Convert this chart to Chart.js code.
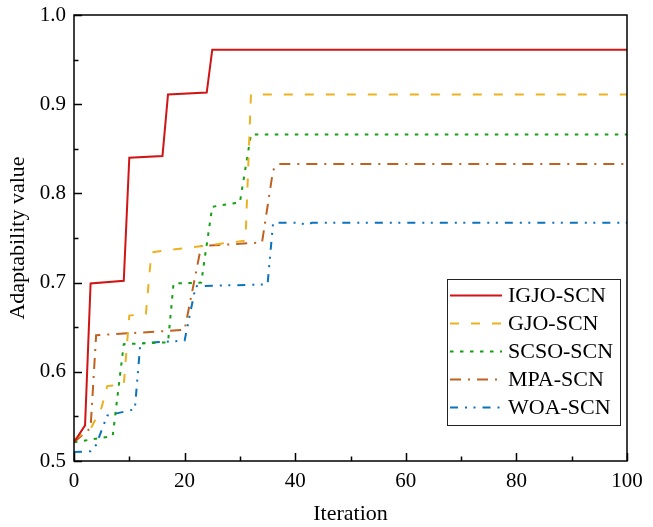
<!DOCTYPE html>
<html>
<head>
<meta charset="utf-8">
<script src="https://cdn.jsdelivr.net/npm/chart.js@4.4.1/dist/chart.umd.min.js"></script>
<style>
  html, body { margin: 0; padding: 0; background: #fff; }
  #wrap { width: 653px; height: 527px; }
</style>
</head>
<body>
<div id="wrap"><canvas id="fitness" width="653" height="527"></canvas></div>
<script>
// best adaptability value per iteration (only the iterations where the curve changes)
const iterIGJO = [0, 2, 3, 9, 10, 16, 17, 24, 25, 100];
const fitIGJO  = [0.521, 0.540, 0.699, 0.702, 0.840, 0.842, 0.911, 0.913, 0.961, 0.961];

const iterGJO = [0, 1, 3, 5, 6, 9, 10, 13, 14, 31, 32, 100];
const fitGJO  = [0.524, 0.528, 0.536, 0.560, 0.584, 0.586, 0.663, 0.665, 0.734, 0.747, 0.911, 0.911];

const iterSCSO = [0, 7, 9, 17, 18, 23, 25, 30, 32, 100];
const fitSCSO  = [0.521, 0.528, 0.631, 0.633, 0.699, 0.700, 0.785, 0.790, 0.866, 0.866];

const iterMPA = [0, 3, 4, 20, 23, 34, 36, 37, 100];
const fitMPA  = [0.521, 0.537, 0.641, 0.647, 0.741, 0.745, 0.826, 0.833, 0.833];

const iterWOA = [0, 3, 4, 6, 11, 12, 20, 22, 35, 36, 41, 42, 43, 100];
const fitWOA  = [0.510, 0.511, 0.518, 0.551, 0.558, 0.632, 0.635, 0.696, 0.698, 0.767, 0.767, 0.764, 0.767, 0.767];

const seriesNames = ['IGJO-SCN', 'GJO-SCN', 'SCSO-SCN', 'MPA-SCN', 'WOA-SCN'];
const xTicks = [0, 20, 40, 60, 80, 100];
const yTicks = [0.5, 0.6, 0.7, 0.8, 0.9, 1.0];

const FONT = "'Liberation Serif', 'Times New Roman', serif";

const toPoints = (xs, ys) => xs.map((x, i) => ({ x, y: ys[i] }));

const styles = [
    { color: '#cf1515', dash: [] },
    { color: '#edb120', dash: [9, 12] },
    { color: '#13a013', dash: [3.5, 6.5] },
    { color: '#bf6120', dash: [11, 7, 2, 7] },
    { color: '#0b73bd', dash: [8, 7, 2, 6.5, 2, 7] }
];

const rawSeries = [
    [iterIGJO, fitIGJO],
    [iterGJO, fitGJO],
    [iterSCSO, fitSCSO],
    [iterMPA, fitMPA],
    [iterWOA, fitWOA]
];

// order keeps the red curve drawn on top
const datasets = rawSeries.map(([xs, ys], i) => ({
    label: seriesNames[i],
    data: toPoints(xs, ys),
    borderColor: styles[i].color,
    backgroundColor: styles[i].color,
    borderDash: styles[i].dash,
    borderWidth: 2,
    pointRadius: 0,
    tension: 0,
    order: i
}));

// plot frame plus inward major/minor ticks
const frameTicks = {
    id: 'frameTicks',
    afterDatasetsDraw(chart) {
        const { ctx, chartArea: a, scales: { x, y } } = chart;
        ctx.save();
        ctx.strokeStyle = '#000';
        ctx.lineWidth = 1.5;
        ctx.beginPath();
        for (let v = 0; v <= 100; v += 10) {
            const px = Math.round(x.getPixelForValue(v)) + 0.5;
            const len = v % 20 === 0 ? 8 : 4.5;
            ctx.moveTo(px, a.bottom);
            ctx.lineTo(px, a.bottom - len);
        }
        for (let k = 0; k <= 10; k++) {
            const v = 0.5 + k * 0.05;
            const py = Math.round(y.getPixelForValue(v)) + 0.5;
            const len = k % 2 === 0 ? 8 : 4.5;
            ctx.moveTo(a.left, py);
            ctx.lineTo(a.left + len, py);
        }
        ctx.stroke();
        ctx.strokeRect(a.left, a.top, a.right - a.left, a.bottom - a.top);
        ctx.restore();
    }
};

// boxed legend in the lower right of the plot
const boxLegend = {
    id: 'boxLegend',
    afterDraw(chart) {
        const { ctx, chartArea: a } = chart;
        const w = 173, h = 146;
        const left = a.right - 7 - w;
        const top = a.bottom - 36 - h;
        const rowH = 27.9;
        ctx.save();
        ctx.fillStyle = '#fff';
        ctx.fillRect(left, top, w, h);
        ctx.strokeStyle = '#222';
        ctx.lineWidth = 1;
        ctx.strokeRect(left + 0.5, top + 0.5, w, h);
        ctx.font = `22px ${FONT}`;
        ctx.textBaseline = 'middle';
        chart.data.datasets.forEach((ds, i) => {
            const cy = Math.round(top + 16 + i * rowH) + 0.5;
            ctx.strokeStyle = ds.borderColor;
            ctx.lineWidth = ds.borderWidth;
            ctx.setLineDash(ds.borderDash);
            ctx.beginPath();
            ctx.moveTo(left + 3, cy);
            ctx.lineTo(left + 55, cy);
            ctx.stroke();
            ctx.setLineDash([]);
            ctx.fillStyle = '#000';
            ctx.fillText(ds.label, left + 61, cy + 1);
        });
        ctx.restore();
    }
};

new Chart(document.getElementById('fitness'), {
    type: 'line',
    data: { datasets },
    options: {
        responsive: false,
        animation: false,
        layout: { padding: { top: 15, right: 26, left: 0, bottom: 0 } },
        plugins: { legend: { display: false }, tooltip: { enabled: false } },
        scales: {
            x: {
                type: 'linear',
                min: 0,
                max: 100,
                afterBuildTicks: (s) => { s.ticks = xTicks.map(v => ({ value: v })); },
                afterFit: (s) => { s.height = 66; s.paddingLeft = 0; s.paddingRight = 0; },
                grid: { display: false, drawTicks: false },
                border: { display: false },
                ticks: { color: '#000', padding: 8, maxRotation: 0, font: { family: FONT, size: 21 } },
                title: { display: true, text: 'Iteration', color: '#000', padding: { top: 0, bottom: 0 }, font: { family: FONT, size: 22 } }
            },
            y: {
                min: 0.5,
                max: 1.0,
                afterBuildTicks: (s) => { s.ticks = yTicks.map(v => ({ value: v })); },
                afterFit: (s) => { s.width = 74; s.paddingTop = 0; s.paddingBottom = 0; },
                grid: { display: false, drawTicks: false },
                border: { display: false },
                ticks: { color: '#000', padding: 8, callback: (v) => v.toFixed(1), font: { family: FONT, size: 21 } },
                title: { display: true, text: 'Adaptability value', color: '#000', padding: { top: 5, bottom: 0 }, font: { family: FONT, size: 22 } }
            }
        }
    },
    plugins: [frameTicks, boxLegend]
});
</script>
</body>
</html>
